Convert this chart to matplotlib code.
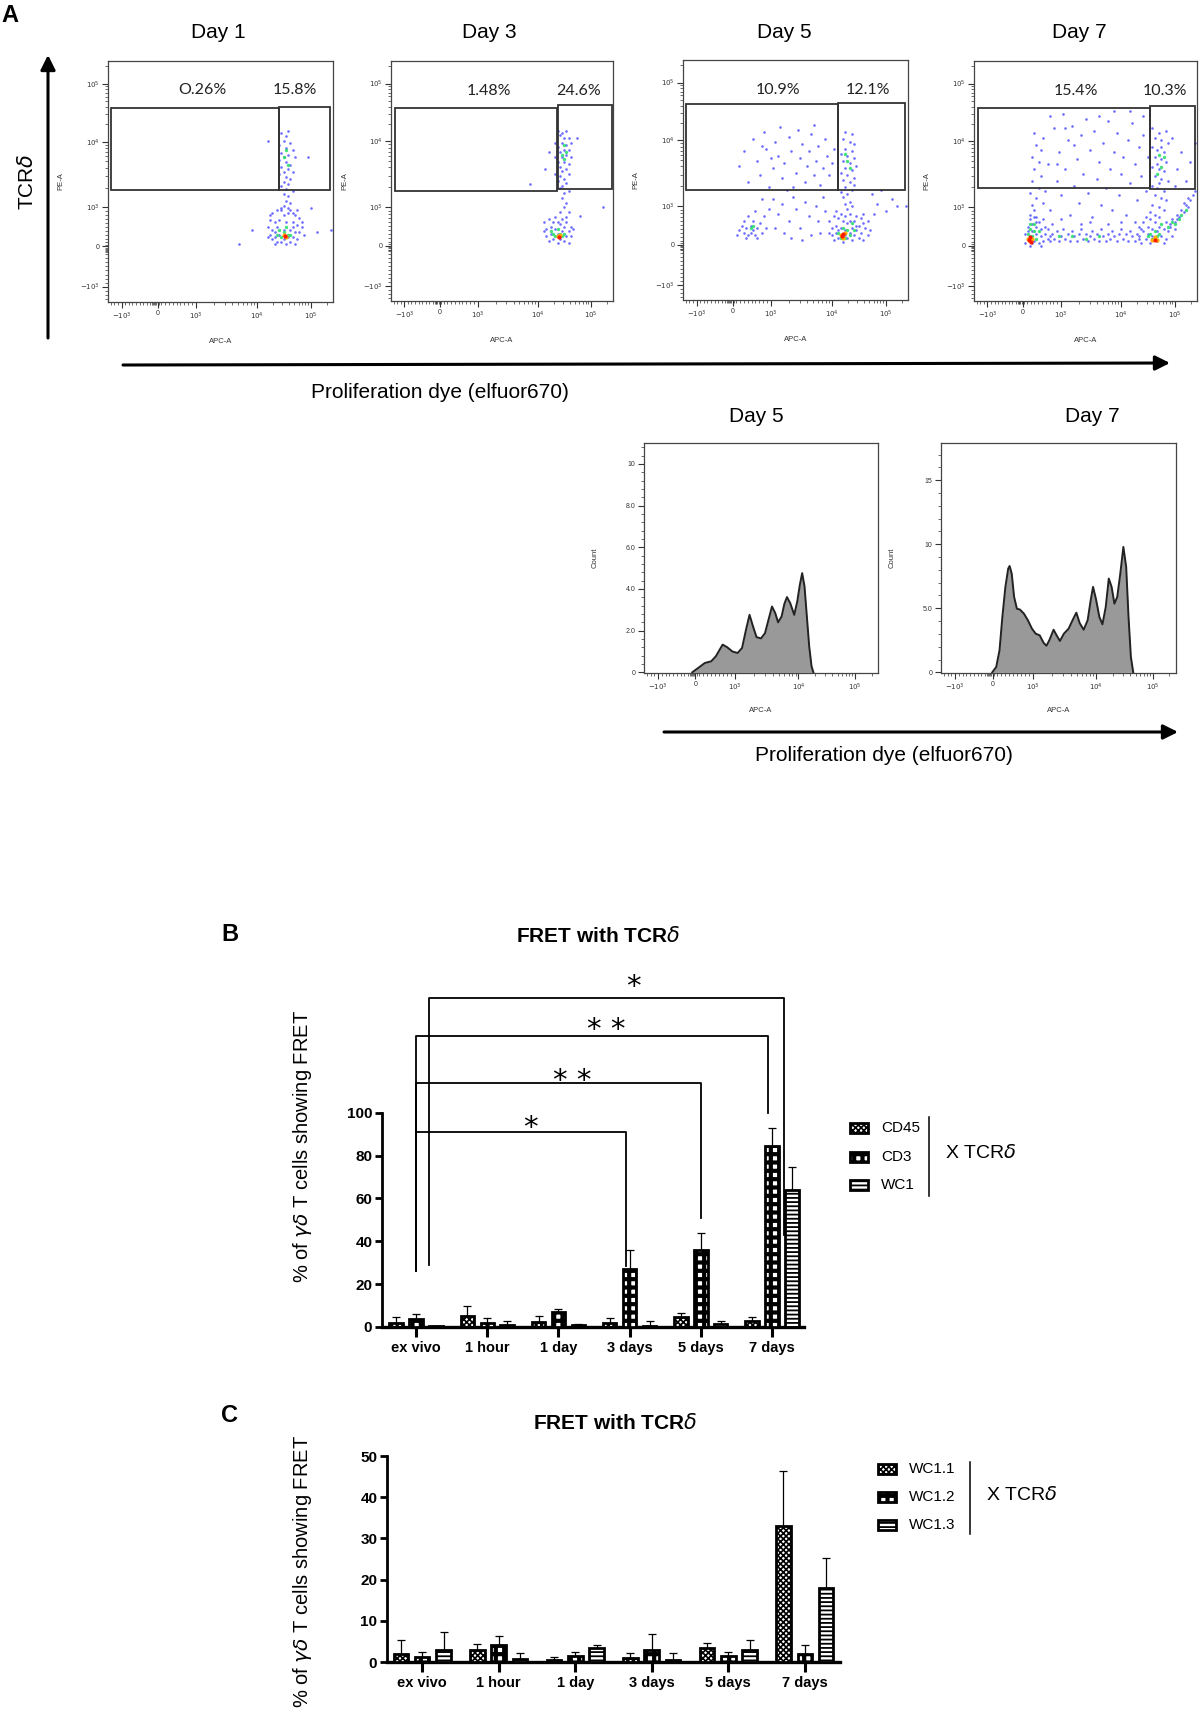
import numpy as np
import matplotlib
matplotlib.use('Agg')
import matplotlib.pyplot as plt
from matplotlib.patches import Rectangle

plt.rcParams['font.family'] = ['Liberation Sans', 'DejaVu Sans']
plt.rcParams['mathtext.fontset'] = 'dejavusans'
plt.rcParams['hatch.linewidth'] = 1.0

# ---------------- data ----------------
# flow plots: positions in % of the plot box (biexponential display scale)
flow_xticks = [6, 22, 39, 66, 90]
flow_yticks = [6.4, 23.1, 39.3, 66.5, 90.6]
flow_ticklabels = [r'$-10^3$', '0', r'$10^3$', r'$10^4$', r'$10^5$']

day1_blue = [(77,70),(79,69),(80,71),(78,67),(81,66),(76,65),(79,64),(82,63),(77,62),(80,61),(78,60),(83,60),
             (76,59),(79,58),(81,57),(77,56),(80,55),(78,54),(82,54),(76,53),(79,52),(81,51),(78,50),(80,49),
             (77,48),(79,47),(82,46),(78,45),(80,44),(79,42),(81,41),(78,40),(80,39),(77,38),(82,37),
             (73,37),(75,38),(78,36),(80,37),(83,36),(85,35),(72,34),(74,33),(76,34),(79,33),(82,33),(84,32),
             (86,31),(71,31),(73,30),(75,31),(78,30),(81,30),(83,29),(85,29),(72,28),(74,27),(76,28),(80,27),
             (82,27),(84,26),(73,26),(75,25),(77,25),(79,24),(81,25),(83,24),(74,29),(86,33),(87,28),(71,27),
             (77,39),(81,38),(84,38),(72,36),(74,24),(82,31),(78,26),
             (71,67),(89,60),(58,24),(64,30),(90,39),(93,29),(99,30)]
day1_green = [(79,63),(80,57),(78,60),(76,30),(78,29),(80,28),(77,27),(79,31),(81,28),(75,28)]
day1_warm = [(78,28),(79,27)]
day1_red = [(78.5,27.5)]

day3_blue = [(75,71),(77,70),(79,71),(76,69),(78,68),(80,68),(74,66),(77,66),(79,65),(81,66),(75,64),(78,63),
             (80,63),(76,62),(79,61),(74,60),(77,60),(81,60),(75,58),(78,58),(80,57),(76,56),(79,55),(77,54),
             (74,53),(80,53),(76,52),(78,51),(75,50),(79,49),(77,48),(76,47),(80,46),(78,45),(77,43),(79,41),
             (78,39),(76,37),(80,37),
             (69,33),(70,30),(70,27),(71,34),(71,25),(72,31),(72,28),(73,33),(73,26),(74,30),(74,35),(75,28),
             (75,24),(76,32),(76,26),(77,34),(77,29),(78,31),(78,25),(79,27),(79,33),(80,29),(80,24),(81,31),
             (81,27),(82,30),(69,29),(75,33),(79,35),
             (62.6,48.8),(69.3,55),(84,68),(95.5,39),(85,35.6),(71,62)]
day3_green = [(78,65),(79,62),(77,61),(78,59),(73,28),(74,27),(76,28),(77,27),(75,30),(78,28),(72,29)]
day3_warm = [(75,27),(76,27.5)]
day3_red = [(75.5,26.8)]

day5_blue = [(65,33),(66,30),(66,27),(67,35),(67,25),(68,31),(68,28),(69,34),(69,26),(70,36),(70,30),(71,33),
             (71,24),(72,29),(72,35),(73,26),(73,32),(74,28),(74,36),(75,30),(75,25),(76,33),(76,27),(77,35),
             (77,29),(78,31),(78,26),(79,34),(79,28),(80,32),(80,25),(81,30),(82,33),(82,27),(83,29),(65,28),
             (69,29),(74,33),(77,31),(80,36),(68,37),(72,27),
             (72,70),(75,69),(71,67),(74,66),(76,65),(72,63),(75,62),(70,61),(73,60),(76,59),(71,58),(74,57),
             (72,55),(75,54),(70,53),(73,52),(76,51),(71,50),(74,49),(72,47),(75,46),(73,44),(71,43),(74,41),
             (72,40),(75,39),(73,38),(70,45),(77,56),(76,48),
             (24,27),(25,29),(26,31),(27,28),(27,33),(28,30),(29,27),(29,35),(30,31),(30,28),(31,33),(31,29),
             (32,27),(32,37),(33,30),(34,32),(35,28),(36,35),(37,30),(38,38),(28,26),(33,26),
             (25,56),(27,62),(29,49),(31,67),(33,58),(34,52),(36,70),(37,63),(38,47),(40,55),(41,66),(42,60),
             (43,72),(44,51),(45,57),(47,68),(48,62),(49,47),(50,53),(51,71),(52,59),(53,65),(54,49),(55,56),
             (56,62),(57,69),(58,52),(59,58),(60,64),(61,48),(62,55),(63,67),(64,60),(65,52),(66,57),(67,63),
             (46,46),(39,59),(58,73),(35,64),
             (40,42),(42,36),(44,40),(45,28),(47,33),(49,43),(50,38),(52,30),(54,41),(56,35),(57,27),(59,39),
             (60,33),(62,43),(63,37),(41,30),(53,25),(61,28),(35,42),(48,26),
             (84,44),(86,40),(88,46),(90,37),(93,42),(95,39),(99,39),(85,36)]
day5_green = [(69,28),(71,30),(72,26),(74,27),(70,26),(73,29),(76,29),(75,32),(73,58),(74,55),(72,61),
              (30,30),(31,31)]
day5_warm = [(70,27),(72,28),(71,26)]
day5_red = [(71,27.5),(70.5,26.5)]

day7_blue = [(23,24),(23,28),(24,31),(24,26),(25,34),(25,23),(26,29),(26,32),(27,25),(27,35),(28,28),(28,31),
             (29,24),(29,33),(30,27),(30,30),(31,25),(31,34),(32,28),(32,31),(33,26),(33,30),(34,27),(24,29),
             (26,24),(28,33),(30,23),(25,27),
             (34,25),(35,28),(36,26),(37,29),(38,25),(39,27),(40,30),(41,26),(42,28),(43,25),(44,29),(45,27),
             (46,25),(47,28),(48,30),(49,26),(50,28),(51,25),(52,27),(53,29),(54,26),(55,28),(56,25),(57,30),
             (58,27),(59,25),(60,28),(61,26),(62,29),(63,27),(64,25),(65,28),(66,30),(67,26),(68,28),(69,25),
             (70,29),(71,27),(72,25),(73,28),(74,26),(75,30),
             (74,27),(74,31),(75,24),(76,29),(76,33),(77,26),(77,35),(78,28),(78,31),(79,24),(79,34),(80,27),
             (80,30),(81,33),(82,25),(82,29),(83,31),(83,35),(84,27),(85,30),(86,33),(86,26),(87,29),(88,32),
             (89,27),(90,30),(91,34),(85,24),(81,36),
             (88,31),(89,34),(90,33),(91,36),(92,35),(93,38),(94,37),(95,40),(96,39),(97,42),(98,44),(99,46),
             (96,43),(94,41),
             (80,72),(83,70),(86,71),(81,68),(84,67),(87,66),(80,64),(82,63),(85,62),(81,60),(84,59),(86,58),
             (80,56),(83,55),(85,54),(81,52),(84,51),(87,50),(80,48),(82,47),(85,46),(81,44),(84,43),(86,42),
             (80,40),(83,39),(85,38),(82,57),(84,64),(83,49),
             (25,36),(26,40),(25,45),(27,38),(26,50),(28,43),(27,55),(29,47),(26,60),(28,65),(30,52),(27,70),
             (29,58),(31,41),(30,63),(32,46),(28,35),(33,57),(31,68),(34,38),
             (36,72),(37,50),(38,62),(39,44),(40,78),(41,55),(42,67),(43,36),(44,73),(45,48),(46,59),(47,41),
             (48,69),(49,53),(50,76),(51,45),(52,63),(53,35),(54,71),(55,51),(56,58),(57,40),(58,66),(59,47),
             (60,75),(61,55),(62,38),(63,62),(64,70),(65,44),(66,53),(67,60),(68,36),(69,67),(70,49),(71,74),
             (72,57),(73,42),(74,64),(75,52),(76,69),(77,46),(78,60),(79,37),(35,32),(39,34),(52,33),(60,32),
             (66,33),(72,33),(37,57),(45,65),(56,77),(63,79),(70,79),(76,77),(48,32),(41,72),(34,77),
             (89,68),(91,55),(93,62),(95,50),(97,58),(99,66),(90,48)]
day7_green = [(24,28),(25,30),(26,27),(27,29),(28,26),(25,32),(29,29),(27,32),(38,27),(44,27),(50,26),(56,27),
              (79,28),(80,26),(81,29),(82,27),(83,28),(84,32),(78,27),(87,31),(89,33),(90,32),(92,34),(93,36),
              (95,38),(83,61),(84,56),(82,53),(85,60)]
day7_warm = [(24,26),(25,25),(26,26),(80,25.5),(81,26.5),(82,25.5)]
day7_red = [(24.5,25.5),(25.5,24.5),(25,26.5),(81,25.5)]

# gates (x0, y0, x1, y1) and gate frequencies
day1_gates = [(1.5, 46.3, 76, 80.3), (76, 46.3, 98.8, 81)]
day3_gates = [(1.6, 46, 74.6, 80.6), (75, 46.7, 99.6, 81.6)]
day5_gates = [(1.5, 46, 68.7, 81.5), (68.7, 46, 98.8, 82)]
day7_gates = [(1.6, 47, 79, 80.6), (79, 46.7, 99.3, 81.3)]
day1_pct = [('O.26%', 42, 88), ('15.8%', 83, 88)]
day3_pct = [('1.48%', 44.3, 87.5), ('24.6%', 84.3, 87.5)]
day5_pct = [('10.9%', 42.4, 87.5), ('12.1%', 82, 87.5)]
day7_pct = [('15.4%', 45.6, 87.5), ('10.3%', 85.6, 87.5)]

# proliferation histograms (x in % of box, count)
day5_hist_x = [20.6, 23.5, 26.0, 28.7, 30.7, 33.6, 35.5, 37.8, 40.0, 41.9, 43.6, 45.1, 46.6, 48.1, 50.0, 51.7,
               53.2, 54.7, 56.1, 57.3, 58.8, 60.0, 61.1, 62.5, 64.2, 65.5, 66.6, 67.6, 68.6, 69.6, 70.6, 71.6, 72.4]
day5_hist_y = [0, 0.24, 0.45, 0.53, 0.77, 1.33, 1.21, 1.0, 0.93, 1.17, 2.05, 2.76, 2.2, 1.69, 1.63, 1.88,
               2.52, 3.16, 2.84, 2.4, 2.68, 3.29, 3.61, 3.32, 2.76, 3.4, 4.2, 4.76, 4.12, 2.68, 1.25, 0.29, 0]
day7_hist_x = [21.8, 23.5, 24.9, 26.1, 27.4, 28.6, 29.2, 30.1, 31.1, 32.3, 33.6, 35.3, 37.0, 38.7, 40.3, 42.0,
               43.7, 44.9, 46.2, 47.9, 49.2, 50.6, 52.3, 54.3, 56.3, 57.6, 59.0, 60.7, 62.4, 63.7, 64.7, 65.9,
               67.4, 68.7, 70.1, 71.4, 72.6, 73.8, 75.0, 76.3, 77.6, 78.8, 79.8, 80.8, 81.8]
day7_hist_y = [0, 0.42, 1.72, 4.3, 6.67, 8.1, 8.3, 7.7, 5.9, 4.97, 4.9, 4.58, 4.06, 3.41, 3.02, 2.89,
               2.29, 2.08, 2.55, 3.33, 2.89, 2.45, 3.02, 3.41, 4.19, 4.66, 3.85, 3.33, 4.06, 5.63, 6.67, 5.76,
               4.32, 3.75, 5.1, 7.32, 6.67, 5.36, 5.89, 7.71, 9.79, 8.23, 4.32, 1.2, 0]

# FRET bar charts
timepoints = ['ex vivo', '1 hour', '1 day', '3 days', '5 days', '7 days']
b_cd45 = [1.9, 5.1, 2.2, 1.9, 4.7, 2.8]
b_cd45_err = [2.6, 4.9, 3.1, 2.1, 1.8, 1.7]
b_cd3 = [3.7, 1.9, 7.0, 27.3, 36.1, 84.3]
b_cd3_err = [2.5, 2.1, 1.4, 8.5, 7.7, 8.5]
b_wc1 = [0.3, 0.8, 1.0, 0.6, 1.3, 64.0]
b_wc1_err = [0.0, 1.8, 0.4, 2.0, 1.5, 10.5]
b_labels = ['CD45', 'CD3', 'WC1']

c_wc11 = [2.0, 3.0, 0.5, 1.0, 3.3, 33.0]
c_wc11_err = [3.3, 1.3, 0.6, 1.1, 1.2, 13.3]
c_wc12 = [1.3, 4.2, 1.5, 2.9, 1.4, 2.0]
c_wc12_err = [1.1, 2.0, 0.9, 4.0, 1.1, 2.1]
c_wc13 = [2.8, 0.7, 3.3, 0.6, 2.9, 17.9]
c_wc13_err = [4.6, 1.6, 0.8, 1.5, 2.5, 7.3]
c_labels = ['WC1.1', 'WC1.2', 'WC1.3']

# significance brackets: x_left, x_right, y_bar, y_left_end, y_right_end, stars, star_x, star_y
b_brackets = [(0.18, 5.17, 153.7, 29, 43, '*', 3.05, 163),
              (0.0, 4.95, 136, 26, 100, '* *', 2.67, 143),
              (0.0, 4.0, 114, 26, 51, '* *', 2.2, 119),
              (0.0, 2.95, 91, 26, 28.3, '*', 1.6, 97)]

# ---------------- figure ----------------
W, H = 1199, 1712
fig = plt.figure(figsize=(W / 100, H / 100), dpi=100)
fig.patch.set_facecolor('white')


def px_axes(x0, y0, x1, y1):
    return fig.add_axes([x0 / W, 1 - y1 / H, (x1 - x0) / W, (y1 - y0) / H])


def flow_minor(majors):
    neg, zero, p3, p4, p5 = majors
    m = [neg + (zero - neg) * k / 10 for k in range(1, 10)]
    m += [zero + (p3 - zero) * k / 10 for k in range(1, 10)]
    m += [zero + d for d in (-2.4, -1.8, -1.2, -0.6, 0.6)]
    for a, b in [(p3, p4), (p4, p5)]:
        m += [a + (b - a) * np.log10(k) for k in range(2, 10)]
    m.append(p5 + (p5 - p4) * np.log10(2))
    m += [neg - (zero - neg) * k / 10 for k in range(1, 4)]
    return m


def style_flow_axes(ax, yticks, ylabels, ylabel):
    ax.set_xlim(0, 100)
    ax.set_xticks(flow_xticks)
    ax.set_xticklabels(flow_ticklabels)
    ax.set_xticks(flow_minor(flow_xticks), minor=True)
    ax.set_yticks(yticks)
    ax.set_yticklabels(ylabels)
    for s in ax.spines.values():
        s.set_color('#444444')
        s.set_linewidth(0.9)
    ax.tick_params(which='major', length=4, width=0.8, labelsize=5, pad=2, color='#333333', labelcolor='#333333')
    ax.tick_params(which='minor', length=2, width=0.5, color='#333333')
    ax.text(-0.21, 0.5, ylabel, transform=ax.transAxes, rotation=90, fontsize=5.5,
            ha='center', va='center', color='#333333')
    ax.text(0.5, -0.165, 'APC-A', transform=ax.transAxes, fontsize=5.5,
            ha='center', va='center', color='#333333')


def flow_scatter(box, blue, green, warm, red, gates, pct):
    ax = px_axes(*box)
    ax.set_ylim(0, 100)
    style_flow_axes(ax, flow_yticks, flow_ticklabels, 'PE-A')
    ax.set_yticks(flow_minor(flow_yticks), minor=True)
    for pts, col, s, a in [(blue, '#3c3cff', 3.5, 0.75), (green, '#30dd70', 6, 0.9),
                           (warm, '#ffb000', 9, 1.0), (red, '#ff1a00', 9, 1.0)]:
        xs, ys = zip(*pts)
        ax.scatter(xs, ys, s=s, c=col, alpha=a, linewidths=0, zorder=2)
    for x0, y0, x1, y1 in gates:
        ax.add_patch(Rectangle((x0, y0), x1 - x0, y1 - y0, fill=False, lw=1.3, ec='#333333', zorder=3))
    for txt, x, y in pct:
        ax.text(x, y, txt, fontsize=11.5, ha='center', va='center', family=['Lato', 'DejaVu Sans'], color='#222222')
    return ax


def flow_hist(box, hx, hy, ylim, yticks, ylabels, yminor):
    ax = px_axes(*box)
    ax.fill_between(hx, hy, 0, color='#999999', lw=0, zorder=1)
    ax.plot(hx, hy, color='#222222', lw=1.4, zorder=2)
    ax.set_ylim(*ylim)
    style_flow_axes(ax, yticks, ylabels, 'Count')
    ax.set_yticks(yminor, minor=True)
    return ax


# panel A scatter plots
flow_scatter((108, 61, 333, 302), day1_blue, day1_green, day1_warm, day1_red, day1_gates, day1_pct)
flow_scatter((391, 61, 613, 301), day3_blue, day3_green, day3_warm, day3_red, day3_gates, day3_pct)
flow_scatter((683, 60, 908, 300), day5_blue, day5_green, day5_warm, day5_red, day5_gates, day5_pct)
flow_scatter((974, 61, 1197, 301), day7_blue, day7_green, day7_warm, day7_red, day7_gates, day7_pct)

# proliferation histograms
flow_hist((644, 443, 878, 673), day5_hist_x, day5_hist_y, (-0.03, 11.0), [0, 2, 4, 6, 8, 10],
          ['0', '2.0', '4.0', '6.0', '8.0', '10'], np.arange(0, 11, 0.4))
flow_hist((941, 443, 1176, 673), day7_hist_x, day7_hist_y, (-0.05, 17.9), [0, 5, 10, 15],
          ['0', '5.0', '10', '15'], np.arange(0, 18, 1.0))

# bar fill patterns: (hatch, hatch line width)
patterns = [('xxxxxx', 1.2), ('++', 3.0), ('----', 1.3)]


def hatched(patch, lw):
    if hasattr(patch, 'set_hatch_linewidth'):
        patch.set_hatch_linewidth(lw)


def bar_panel(box, ylim, ytop, yticks, series, errs, xlim):
    ax = px_axes(*box)
    xs = np.arange(len(timepoints))
    for k, (vals, er, (h, hlw)) in enumerate(zip(series, errs, patterns)):
        pos = xs + (k - 1) * 0.28
        ax.errorbar(pos, vals, yerr=[np.zeros(len(vals)), er], fmt='none', ecolor='black',
                    elinewidth=0.9, capsize=3, capthick=0.9, zorder=2)
        plt.rcParams['hatch.linewidth'] = hlw
        bars = ax.bar(pos, vals, width=0.19, color='white', edgecolor='black', hatch=h, lw=2.0, zorder=3)
        for b in bars:
            hatched(b, hlw)
    ax.set_xlim(*xlim)
    ax.set_ylim(*ylim)
    ax.spines['top'].set_visible(False)
    ax.spines['right'].set_visible(False)
    ax.spines['left'].set_bounds(0, ytop)
    ax.spines['left'].set_linewidth(2.0)
    ax.spines['bottom'].set_linewidth(2.4)
    ax.set_xticks(xs)
    ax.set_xticklabels(timepoints, fontweight='bold', fontsize=10.5)
    ax.set_yticks(yticks)
    ax.set_yticklabels([str(v) for v in yticks], fontweight='bold', fontsize=11)
    ax.tick_params(axis='x', length=7, width=2.2, pad=3)
    ax.tick_params(axis='y', length=5, width=2.0, pad=2)
    ax.patch.set_alpha(0)
    return ax


# panel B
axB = bar_panel((382, 952, 804, 1327), (0, 175), 100, [0, 20, 40, 60, 80, 100],
                [b_cd45, b_cd3, b_wc1], [b_cd45_err, b_cd3_err, b_wc1_err], (-0.48, 5.45))
for xl, xr, yb, yl, yr, st, sx, sy in b_brackets:
    axB.plot([xl, xl, xr, xr], [yl, yb, yb, yr], color='black', lw=1.3, clip_on=False, zorder=4)
    axB.text(sx, sy - 8, st, fontsize=21, ha='center', va='baseline', family='DejaVu Sans')

# panel C
axC = bar_panel((387, 1456, 840, 1662), (0, 50), 50, [0, 10, 20, 30, 40, 50],
                [c_wc11, c_wc12, c_wc13], [c_wc11_err, c_wc12_err, c_wc13_err], (-0.46, 5.46))

# ---------------- annotation layer ----------------
ann = fig.add_axes([0, 0, 1, 1], zorder=10)
ann.set_xlim(0, W)
ann.set_ylim(H, 0)
ann.axis('off')
ann.patch.set_alpha(0)

arrow = dict(arrowstyle='-|>', lw=2.2, color='black', mutation_scale=22, shrinkA=0, shrinkB=0)
ann.annotate('', xy=(48, 55), xytext=(48, 338), arrowprops=arrow)
ann.annotate('', xy=(1170, 363), xytext=(123, 365), arrowprops=arrow)
ann.annotate('', xy=(1178, 732), xytext=(664, 732), arrowprops=arrow)

ann.text(10, 15, 'A', fontsize=17, fontweight='bold', ha='center', va='center')
ann.text(27, 182, r'TCR$\delta$', fontsize=15, rotation=90, ha='center', va='center')
for name, x in [('Day 1', 218), ('Day 3', 489), ('Day 5', 784), ('Day 7', 1079)]:
    ann.text(x, 32, name, fontsize=15, ha='center', va='center')
ann.text(440, 392, 'Proliferation dye (elfuor670)', fontsize=15, ha='center', va='center')
ann.text(756, 416, 'Day 5', fontsize=15, ha='center', va='center')
ann.text(1092, 416, 'Day 7', fontsize=15, ha='center', va='center')
ann.text(884, 755, 'Proliferation dye (elfuor670)', fontsize=15, ha='center', va='center')

ann.text(230, 934, 'B', fontsize=17, fontweight='bold', ha='center', va='center')
ann.text(598, 936, r'FRET with TCR$\delta$', fontsize=15, fontweight='bold', ha='center', va='center')
ann.text(303, 1147, r'% of $\gamma\delta$ T cells showing FRET', fontsize=14.5, rotation=90,
         ha='center', va='center')

ann.text(230, 1415, 'C', fontsize=17, fontweight='bold', ha='center', va='center')
ann.text(615, 1423, r'FRET with TCR$\delta$', fontsize=15, fontweight='bold', ha='center', va='center')
ann.text(303, 1572, r'% of $\gamma\delta$ T cells showing FRET', fontsize=14.5, rotation=90,
         ha='center', va='center')


def legend_block(x_sq, ys, labels, x_line, y_line, x_txt):
    for y, lab, (h, hlw) in zip(ys, labels, patterns):
        plt.rcParams['hatch.linewidth'] = hlw
        sq = Rectangle((x_sq - 9, y - 5), 18, 10, facecolor='white', edgecolor='black', hatch=h, lw=2.0)
        hatched(sq, hlw)
        ann.add_patch(sq)
        ann.text(x_sq + 22, y, lab, fontsize=11, ha='left', va='center')
    ann.plot([x_line, x_line], list(y_line), color='black', lw=1.1)
    ann.text(x_txt, (y_line[0] + y_line[1]) / 2 - 3, r'X TCR$\delta$', fontsize=14, ha='left', va='center')


legend_block(859, [1128, 1157, 1185], b_labels, 929, (1117, 1196), 945)
legend_block(887, [1469, 1497, 1525], c_labels, 970, (1462, 1534), 986)

fig.savefig('out.png', dpi=100, facecolor='white')
